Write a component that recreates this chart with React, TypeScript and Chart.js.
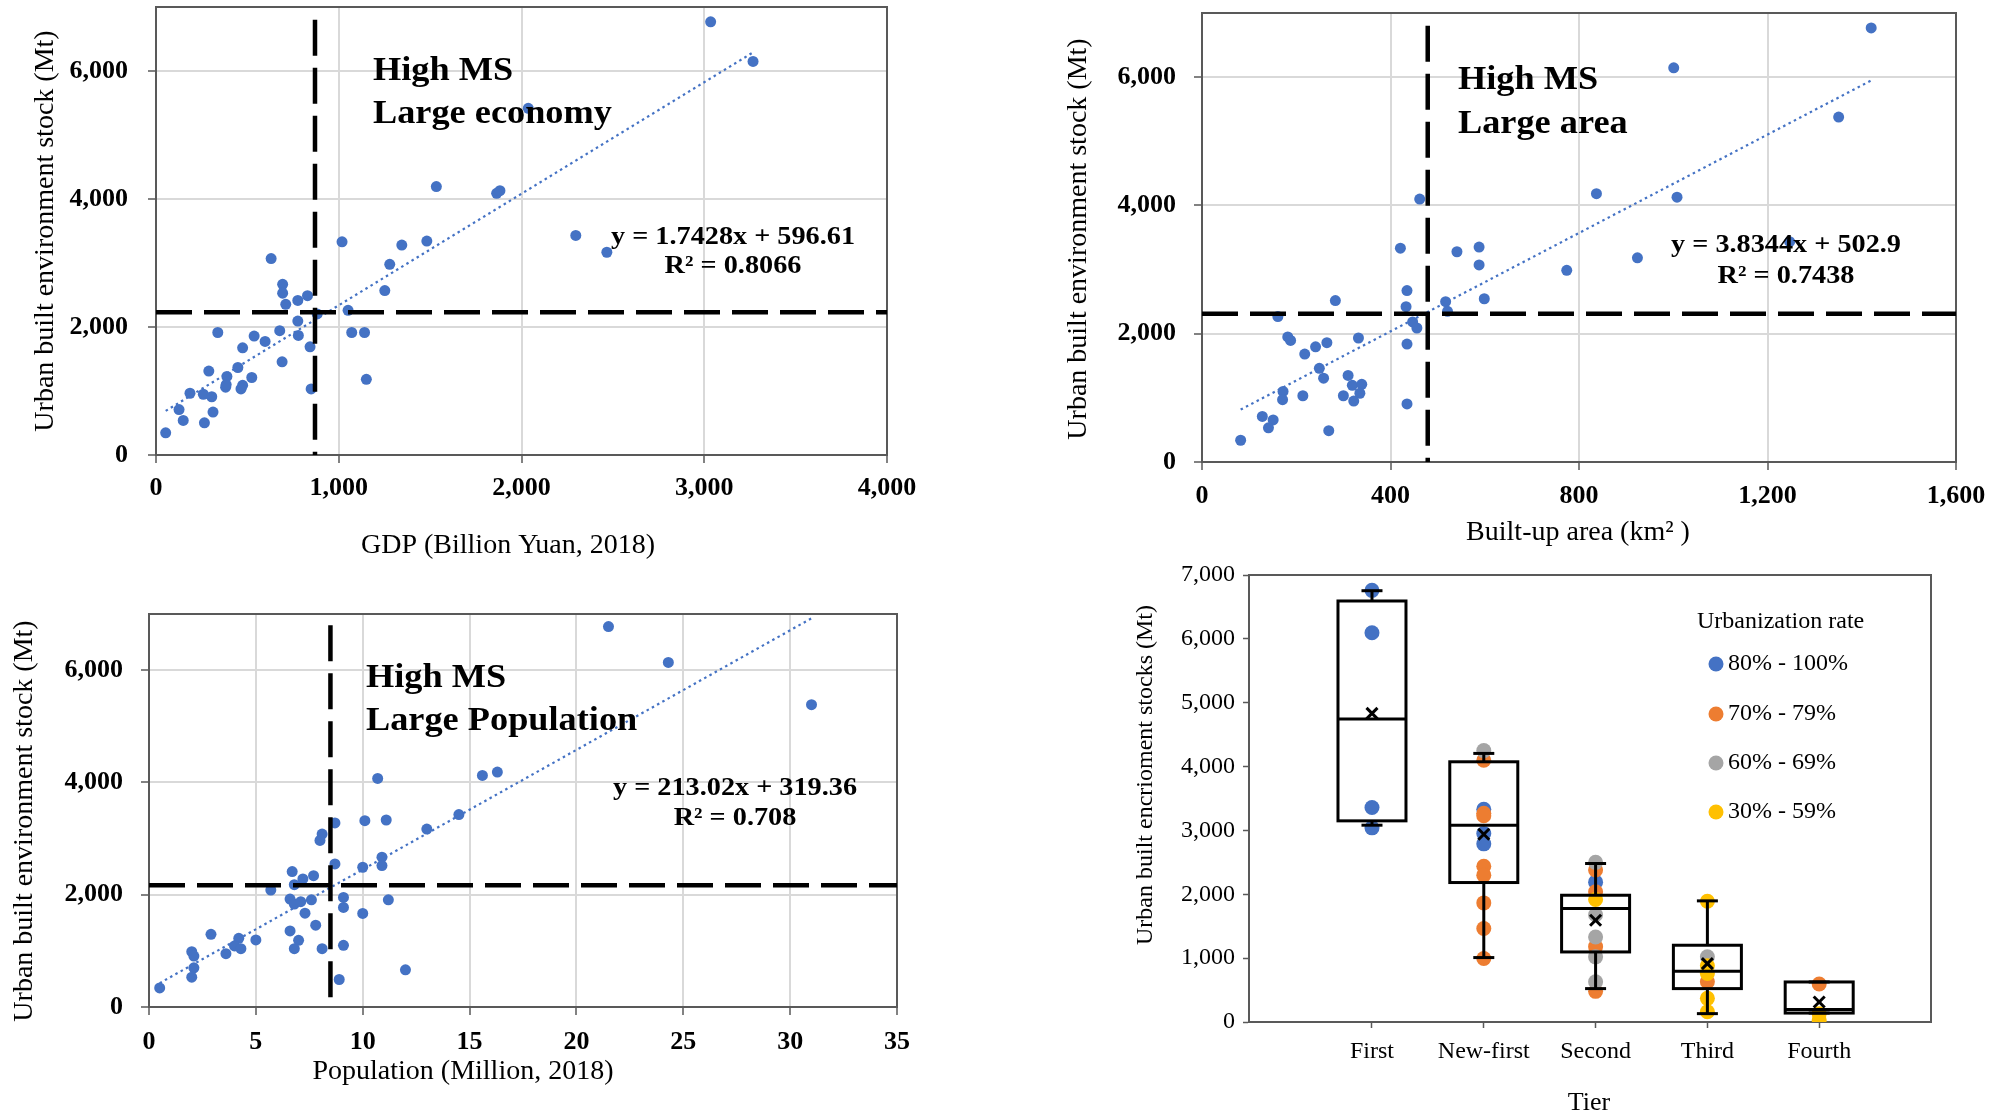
import { useEffect, useRef } from 'react';
import { Chart, registerables } from 'chart.js';

Chart.register(...registerables);

const SERIF = '"Liberation Serif", "Times New Roman", Times, serif';
const INK = '#000000';
const AXIS_GREY = '#595959';
const GRID_GREY = '#d9d9d9';
const POINT_BLUE = '#4472C4';

// ---------- Stock vs GDP ----------
const gdpBillionYuan = [
  3035, 3267, 2037, 1534, 1864, 1882, 2297, 2467, 1018, 1345,
  1482, 1279, 1252, 1051, 1071, 1141, 1151, 630, 693, 693,
  710, 776, 829, 882, 776, 677, 779, 843, 849, 690,
  597, 537, 474, 338, 448, 388, 381, 384, 474, 465,
  524, 289, 259, 305, 312, 265, 186, 126, 149, 53,
];
const gdpStockMt = [
  6769, 6149, 5417, 4194, 4089, 4130, 3430, 3168, 3331, 3281,
  3342, 2980, 2570, 2260, 1914, 1914, 1183, 3069, 2667, 2528,
  2355, 2416, 2489, 2204, 2093, 1942, 1869, 1691, 1032, 1456,
  1774, 1858, 1674, 1914, 1367, 1228, 1060, 1100, 1088, 1032,
  1211, 1311, 949, 910, 670, 502, 965, 709, 541, 346,
];
const gdpFit = { slope: 1.7428, intercept: 596.61, r2: 0.8066 };
const gdpCut = 870;
const gdpStockCut = 2230;
const gdpTicks = [0, 1000, 2000, 3000, 4000];

// ---------- Stock vs built-up area ----------
const areaKm2 = [
  1420, 1001, 1351, 837, 1008, 462, 1247, 924, 774, 421,
  541, 588, 588, 599, 517, 521, 435, 433, 283, 161,
  447, 456, 182, 188, 332, 265, 241, 218, 435, 249,
  258, 310, 319, 339, 335, 300, 322, 214, 172, 171,
  435, 151, 128, 141, 269, 82,
];
const areaStockMt = [
  6767, 6145, 5378, 4184, 4128, 4100, 3434, 3184, 2989, 3334,
  3278, 3350, 3072, 2545, 2500, 2350, 2672, 2422, 2517, 2267,
  2183, 2089, 1950, 1895, 1933, 1861, 1795, 1683, 1839, 1461,
  1306, 1350, 1195, 1211, 1072, 1033, 950, 1033, 1100, 972,
  906, 656, 711, 533, 489, 339,
];
const areaFit = { slope: 3.8344, intercept: 502.9, r2: 0.7438 };
const areaCut = 479;
const areaStockCut = 2310;
const areaTicks = [0, 400, 800, 1200, 1600];

// ---------- Stock vs population ----------
const populationMillion = [
  21.5, 24.3, 31.0, 10.7, 15.6, 16.3, 14.5, 13.0, 10.1, 11.1,
  8.7, 8.1, 8.0, 8.7, 10.9, 10.9, 10.0, 6.7, 7.7, 7.2,
  6.8, 5.7, 6.6, 6.8, 7.1, 7.6, 7.3, 9.1, 9.1, 11.2,
  10.0, 7.8, 6.6, 7.0, 6.8, 8.1, 9.1, 2.9, 4.2, 4.0,
  4.3, 5.0, 3.6, 2.0, 2.1, 2.1, 2.0, 8.9, 12.0, 0.5,
];
const populationStockMt = [
  6776, 6137, 5385, 4072, 4125, 4185, 3427, 3170, 3319, 3331,
  3278, 3081, 2967, 2549, 2669, 2519, 2489, 2412, 2340, 2281,
  2179, 2084, 1922, 1833, 1875, 1910, 1672, 1952, 1773, 1910,
  1666, 1457, 1355, 1188, 1039, 1039, 1098, 1295, 1224, 1087,
  1039, 1194, 949, 985, 907, 698, 531, 490, 663, 340,
];
const populationFit = { slope: 213.02, intercept: 319.36, r2: 0.708 };
const populationCut = 8.49;
const populationStockCut = 2170;
const populationTicks = [0, 5, 10, 15, 20, 25, 30, 35];

const stockTicks = [0, 2000, 4000, 6000];
const stockMax = 7000;
const cutLineTop = 6800;

// ---------- Stock by city tier ----------
const tiers = ['First', 'New-first', 'Second', 'Third', 'Fourth'];
const urbanClasses = ['80% - 100%', '70% - 79%', '60% - 69%', '30% - 59%'];
const classColors = ['#4472C4', '#ED7D31', '#A5A5A5', '#FFC000'];
const stocks80to100 = [[6760, 6096, 3360, 3040], [3330, 2950, 2790], [2190], [], []];
const stocks70to79 = [[], [4100, 3270, 3230, 2440, 2300, 1865, 1464, 995], [2380, 2040, 1180, 480], [630], [595]];
const stocks60to69 = [[], [4250], [2500, 1680, 1330, 1020, 630], [1020], []];
const stocks30to59 = [[], [], [1920], [1890, 880, 760, 370, 160], [130, 30]];
const boxLow = [3082, 1009, 523, 131, 140];
const boxQ1 = [3150, 2184, 1097, 523, 140];
const boxMedian = [4744, 3082, 1777, 795, 195];
const boxQ3 = [6593, 4075, 1985, 1202, 627];
const boxHigh = [6754, 4206, 2482, 1897, 627];
const boxMean = [4833, 2941, 1594, 915, 313];
const tierStockTicks = [0, 1000, 2000, 3000, 4000, 5000, 6000, 7000];

type Fit = { slope: number; intercept: number; r2: number };
type Box = { left: number; top: number; width: number; height: number };
type Area = { left: number; top: number; right: number; bottom: number };

interface ScatterPanel {
  xs: number[];
  ys: number[];
  fit: Fit;
  xCut: number;
  yCut: number;
  xMax: number;
  xTicks: number[];
  box: Box;
  area: Area;
  xTitle: string;
  xTitleAt: [number, number];
  yTitle: string;
  yTitleAt: [number, number];
  tagLines: [string, string];
  tagAt: [number, number, number];
  eqAt: [number, number, number];
  xTickPad: number;
  yTickPad: number;
}

const STOCK_TITLE = 'Urban built environment stock (Mt)';

const gdpPanel: ScatterPanel = {
  xs: gdpBillionYuan, ys: gdpStockMt, fit: gdpFit, xCut: gdpCut, yCut: gdpStockCut,
  xMax: 4000, xTicks: gdpTicks,
  box: { left: 0, top: 0, width: 920, height: 570 },
  area: { left: 156, top: 7, right: 887, bottom: 455 },
  xTitle: 'GDP (Billion Yuan, 2018)', xTitleAt: [508, 546],
  yTitle: STOCK_TITLE, yTitleAt: [46, 231],
  tagLines: ['High MS', 'Large economy'], tagAt: [373, 80, 123],
  eqAt: [733, 244, 273],
  xTickPad: 10, yTickPad: 20,
};

const areaPanel: ScatterPanel = {
  xs: areaKm2, ys: areaStockMt, fit: areaFit, xCut: areaCut, yCut: areaStockCut,
  xMax: 1600, xTicks: areaTicks,
  box: { left: 960, top: 0, width: 1034, height: 570 },
  area: { left: 1202, top: 13, right: 1956, bottom: 462 },
  xTitle: 'Built-up area (km\u00B2 )', xTitleAt: [1578, 533],
  yTitle: STOCK_TITLE, yTitleAt: [1079, 239],
  tagLines: ['High MS', 'Large area'], tagAt: [1458, 89, 133],
  eqAt: [1786, 252, 283],
  xTickPad: 11, yTickPad: 18,
};

const populationPanel: ScatterPanel = {
  xs: populationMillion, ys: populationStockMt, fit: populationFit, xCut: populationCut, yCut: populationStockCut,
  xMax: 35, xTicks: populationTicks,
  box: { left: 0, top: 580, width: 920, height: 536 },
  area: { left: 149, top: 614, right: 897, bottom: 1007 },
  xTitle: 'Population (Million, 2018)', xTitleAt: [463, 1072],
  yTitle: STOCK_TITLE, yTitleAt: [25, 821],
  tagLines: ['High MS', 'Large Population'], tagAt: [366, 687, 730],
  eqAt: [735, 795, 825],
  xTickPad: 12, yTickPad: 18,
};

const tierBox: Box = { left: 1100, top: 560, width: 894, height: 556 };
const tierArea: Area = { left: 1249, top: 575, right: 1931, bottom: 1022 };

function drawStretched(
  ctx: CanvasRenderingContext2D, text: string, x: number, y: number, sx: number, align: CanvasTextAlign,
) {
  ctx.save();
  ctx.translate(x, y);
  ctx.scale(sx, 1);
  ctx.textAlign = align;
  ctx.fillText(text, 0, 0);
  ctx.restore();
}

function drawFrame(chart: Chart) {
  const { ctx, chartArea: a } = chart;
  ctx.save();
  ctx.strokeStyle = AXIS_GREY;
  ctx.lineWidth = 2;
  ctx.strokeRect(a.left, a.top, a.right - a.left, a.bottom - a.top);
  ctx.restore();
}

function drawVerticalTitle(ctx: CanvasRenderingContext2D, text: string, x: number, y: number, font: string) {
  ctx.save();
  ctx.font = font;
  ctx.fillStyle = INK;
  ctx.textAlign = 'center';
  ctx.textBaseline = 'middle';
  ctx.translate(x, y);
  ctx.rotate(-Math.PI / 2);
  ctx.fillText(text, 0, 0);
  ctx.restore();
}

const fmt = (v: number | string) => Number(v).toLocaleString('en-US');

function scatterConfig(p: ScatterPanel): any {
  const ox = p.box.left;
  const oy = p.box.top;
  const lo = Math.min(...p.xs);
  const hi = Math.max(...p.xs);
  const trend = [lo, hi].map((x) => ({ x, y: p.fit.slope * x + p.fit.intercept }));
  const cutStyle = {
    showLine: true, borderColor: '#000', borderWidth: 4.5, borderDash: [36, 12],
    pointRadius: 0, borderCapStyle: 'butt', fill: false,
  };

  const decor = {
    id: 'scatterDecor',
    beforeDatasetsDraw(chart: Chart) {
      drawFrame(chart);
    },
    afterDatasetsDraw(chart: Chart) {
      const ctx = chart.ctx;
      ctx.save();
      ctx.fillStyle = INK;
      ctx.textBaseline = 'alphabetic';
      ctx.font = `bold 33px ${SERIF}`;
      drawStretched(ctx, p.tagLines[0], p.tagAt[0] - ox, p.tagAt[1] - oy, 1.1, 'left');
      drawStretched(ctx, p.tagLines[1], p.tagAt[0] - ox, p.tagAt[2] - oy, 1.1, 'left');
      ctx.font = `bold 25px ${SERIF}`;
      drawStretched(ctx, `y = ${p.fit.slope}x + ${p.fit.intercept}`, p.eqAt[0] - ox, p.eqAt[1] - oy, 1.13, 'center');
      drawStretched(ctx, `R\u00B2 = ${p.fit.r2}`, p.eqAt[0] - ox, p.eqAt[2] - oy, 1.13, 'center');
      ctx.font = `28px ${SERIF}`;
      ctx.textAlign = 'center';
      ctx.textBaseline = 'middle';
      ctx.fillText(p.xTitle, p.xTitleAt[0] - ox, p.xTitleAt[1] - oy);
      ctx.restore();
      drawVerticalTitle(ctx, p.yTitle, p.yTitleAt[0] - ox, p.yTitleAt[1] - oy, `28px ${SERIF}`);
    },
  };

  const tickFont = { family: SERIF, size: 26, weight: 'bold' as const };

  return {
    type: 'scatter',
    data: {
      datasets: [
        { ...cutStyle, data: [{ x: p.xCut, y: cutLineTop }, { x: p.xCut, y: 0 }] },
        { ...cutStyle, data: [{ x: 0, y: p.yCut }, { x: p.xMax, y: p.yCut }] },
        {
          data: p.xs.map((x, i) => ({ x, y: p.ys[i] })),
          backgroundColor: POINT_BLUE, borderColor: POINT_BLUE, borderWidth: 0, pointRadius: 5.5,
        },
        {
          data: trend, showLine: true, borderColor: POINT_BLUE, borderWidth: 2.2,
          borderDash: [2.5, 3.5], pointRadius: 0, fill: false,
        },
      ],
    },
    options: {
      responsive: false,
      animation: false,
      events: [],
      layout: {
        padding: { left: 0, top: p.area.top - oy, right: ox + p.box.width - p.area.right, bottom: 0 },
      },
      plugins: { legend: { display: false }, tooltip: { enabled: false } },
      scales: {
        x: {
          type: 'linear', min: 0, max: p.xMax,
          afterBuildTicks: (s: any) => { s.ticks = p.xTicks.map((value) => ({ value })); },
          afterFit: (s: any) => {
            s.height = oy + p.box.height - p.area.bottom;
            s.paddingLeft = 0; s.paddingRight = 0;
          },
          grid: { color: GRID_GREY, lineWidth: 2, tickColor: AXIS_GREY, tickLength: 8, tickWidth: 1.5 },
          border: { color: AXIS_GREY, width: 2 },
          ticks: {
            autoSkip: false, maxRotation: 0, padding: p.xTickPad, color: INK, font: tickFont,
            callback: (v: number) => fmt(v),
          },
        },
        y: {
          type: 'linear', min: 0, max: stockMax,
          afterBuildTicks: (s: any) => { s.ticks = stockTicks.map((value) => ({ value })); },
          afterFit: (s: any) => {
            s.width = p.area.left - ox;
            s.paddingTop = 0; s.paddingBottom = 0;
          },
          grid: { color: GRID_GREY, lineWidth: 2, tickColor: AXIS_GREY, tickLength: 8, tickWidth: 1.5 },
          border: { color: AXIS_GREY, width: 2 },
          ticks: {
            autoSkip: false, padding: p.yTickPad, color: INK, font: tickFont,
            callback: (v: number) => fmt(v),
          },
        },
      },
    },
    plugins: [decor],
  };
}

function tierConfig(): any {
  const ox = tierBox.left;
  const oy = tierBox.top;
  const byClass = [stocks80to100, stocks70to79, stocks60to69, stocks30to59];
  const datasets = byClass.map((byTier, k) => ({
    label: urbanClasses[k],
    data: byTier.flatMap((vals, t) => vals.map((v) => ({ x: t + 1, y: v }))),
    backgroundColor: classColors[k],
    borderWidth: 0,
    pointRadius: 7.5,
    order: byClass.length - k,
  }));

  const boxes = {
    id: 'tierBoxes',
    beforeDatasetsDraw(chart: Chart) {
      drawFrame(chart);
    },
    afterDatasetsDraw(chart: Chart) {
      const ctx = chart.ctx;
      const xs = chart.scales.x;
      const ys = chart.scales.y;
      const py = (v: number) => ys.getPixelForValue(v);
      const seg = (x1: number, y1: number, x2: number, y2: number) => {
        ctx.beginPath(); ctx.moveTo(x1, y1); ctx.lineTo(x2, y2); ctx.stroke();
      };
      ctx.save();
      ctx.strokeStyle = '#000';
      ctx.lineWidth = 3;
      ctx.lineCap = 'butt';
      tiers.forEach((_, i) => {
        const cx = xs.getPixelForValue(i + 1);
        const half = 34;
        const cap = 10.5;
        seg(cx, py(boxQ3[i]), cx, py(boxHigh[i]));
        seg(cx, py(boxQ1[i]), cx, py(boxLow[i]));
        seg(cx - cap, py(boxHigh[i]), cx + cap, py(boxHigh[i]));
        seg(cx - cap, py(boxLow[i]), cx + cap, py(boxLow[i]));
        ctx.strokeRect(cx - half, py(boxQ3[i]), half * 2, py(boxQ1[i]) - py(boxQ3[i]));
        seg(cx - half, py(boxMedian[i]), cx + half, py(boxMedian[i]));
        const my = py(boxMean[i]);
        seg(cx - 5.5, my - 5.5, cx + 5.5, my + 5.5);
        seg(cx - 5.5, my + 5.5, cx + 5.5, my - 5.5);
      });
      ctx.restore();

      // legend
      ctx.save();
      ctx.fillStyle = INK;
      ctx.font = `24px ${SERIF}`;
      ctx.textAlign = 'left';
      ctx.textBaseline = 'middle';
      ctx.fillText('Urbanization rate', 1697 - ox, 622 - oy);
      const rows = [664, 714, 763, 812];
      urbanClasses.forEach((label, k) => {
        ctx.fillStyle = classColors[k];
        ctx.beginPath();
        ctx.arc(1716 - ox, rows[k] - oy, 7.5, 0, Math.PI * 2);
        ctx.fill();
        ctx.fillStyle = INK;
        ctx.fillText(label, 1728 - ox, rows[k] - oy);
      });
      ctx.font = `26px ${SERIF}`;
      ctx.textAlign = 'center';
      ctx.fillText('Tier', 1589 - ox, 1103 - oy);
      ctx.restore();
      drawVerticalTitle(ctx, 'Urban built encrioment stocks (Mt)', 1146 - ox, 775 - oy, `24px ${SERIF}`);
    },
  };

  const tickFont = { family: SERIF, size: 24 };

  return {
    type: 'scatter',
    data: { datasets },
    options: {
      responsive: false,
      animation: false,
      events: [],
      layout: {
        padding: { left: 0, top: tierArea.top - oy, right: ox + tierBox.width - tierArea.right, bottom: 0 },
      },
      plugins: { legend: { display: false }, tooltip: { enabled: false } },
      scales: {
        x: {
          type: 'linear', min: -0.1, max: 6.0,
          afterBuildTicks: (s: any) => { s.ticks = tiers.map((_, i) => ({ value: i + 1 })); },
          afterFit: (s: any) => {
            s.height = oy + tierBox.height - tierArea.bottom;
            s.paddingLeft = 0; s.paddingRight = 0;
          },
          grid: { drawOnChartArea: false, tickColor: AXIS_GREY, tickLength: 6, tickWidth: 1.5 },
          border: { color: AXIS_GREY, width: 2 },
          ticks: {
            autoSkip: false, maxRotation: 0, padding: 9, color: INK, font: tickFont,
            callback: (_v: number, idx: number) => tiers[idx],
          },
        },
        y: {
          type: 'linear', min: 0, max: 7000,
          afterBuildTicks: (s: any) => { s.ticks = tierStockTicks.map((value) => ({ value })); },
          afterFit: (s: any) => {
            s.width = tierArea.left - ox;
            s.paddingTop = 0; s.paddingBottom = 0;
          },
          grid: { drawOnChartArea: false, tickColor: AXIS_GREY, tickLength: 6, tickWidth: 1.5 },
          border: { color: AXIS_GREY, width: 2 },
          ticks: {
            autoSkip: false, padding: 8, color: INK, font: tickFont,
            callback: (v: number) => fmt(v),
          },
        },
      },
    },
    plugins: [boxes],
  };
}

const makeGdp = () => scatterConfig(gdpPanel);
const makeArea = () => scatterConfig(areaPanel);
const makePopulation = () => scatterConfig(populationPanel);
const makeTier = () => tierConfig();

function ChartCanvas({ make, box }: { make: () => any; box: Box }) {
  const ref = useRef<HTMLCanvasElement>(null);
  useEffect(() => {
    if (!ref.current) return;
    const chart = new Chart(ref.current, make());
    return () => chart.destroy();
  }, [make]);
  return (
    <canvas
      ref={ref}
      width={box.width}
      height={box.height}
      style={{ position: 'absolute', left: box.left, top: box.top, width: box.width, height: box.height }}
    />
  );
}

export default function App() {
  return (
    <div
      style={{
        position: 'fixed', left: 0, top: 0, width: 1994, height: 1116,
        background: '#ffffff', overflow: 'hidden',
      }}
    >
      <ChartCanvas make={makeGdp} box={gdpPanel.box} />
      <ChartCanvas make={makeArea} box={areaPanel.box} />
      <ChartCanvas make={makePopulation} box={populationPanel.box} />
      <ChartCanvas make={makeTier} box={tierBox} />
    </div>
  );
}
